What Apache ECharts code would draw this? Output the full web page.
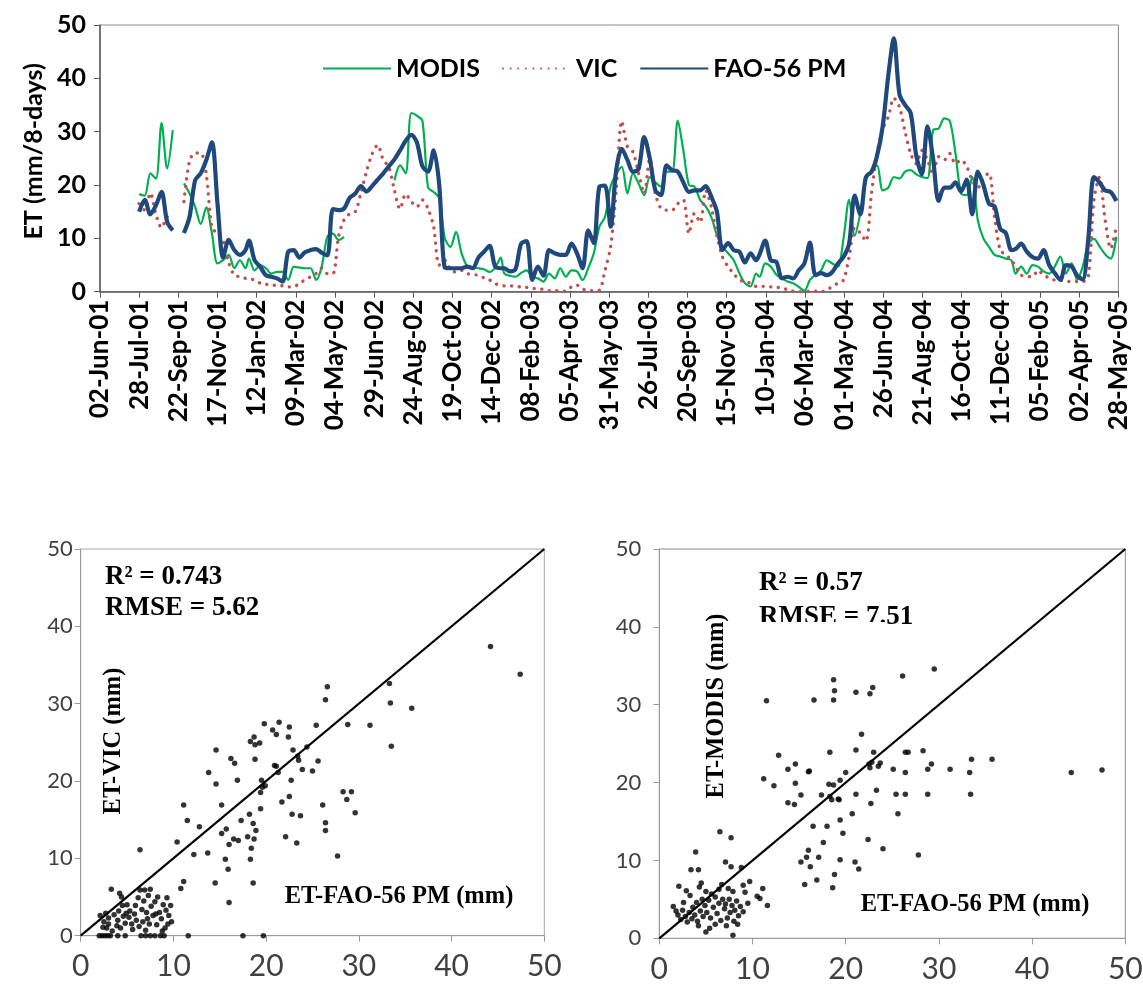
<!DOCTYPE html>
<html>
<head>
<meta charset="utf-8">
<script src="https://cdn.jsdelivr.net/npm/echarts@6/dist/echarts.min.js"></script>
<style>
html, body { margin: 0; padding: 0; background: #fff; }
#chart { width: 1143px; height: 989px; }
</style>
</head>
<body>
<div id="chart"></div>
<script>
// 8-day composite periods per year: [year, first day-of-year, last day-of-year]
const COMPOSITE_YEARS = [[2001, 209, 361], [2002, 1, 361], [2003, 1, 361], [2004, 1, 361], [2005, 1, 145]];

// Date-axis tick labels (every 56 days from 02-Jun-01)
const TICK_LABELS = ['02-Jun-01', '28-Jul-01', '22-Sep-01', '17-Nov-01', '12-Jan-02', '09-Mar-02', '04-May-02',
  '29-Jun-02', '24-Aug-02', '19-Oct-02', '14-Dec-02', '08-Feb-03', '05-Apr-03', '31-May-03', '26-Jul-03',
  '20-Sep-03', '15-Nov-03', '10-Jan-04', '06-Mar-04', '01-May-04', '26-Jun-04', '21-Aug-04', '16-Oct-04',
  '11-Dec-04', '05-Feb-05', '02-Apr-05', '28-May-05'];

// ET (mm/8-days), MODIS
const MODIS_2001 = [18.3, 18.0, 22.2, 21.2, 31.6, 23.1, 30.3, null, 20.3, 18.4, 15.9, 12.7, 15.8, 10.9, 5.3, 5.9, 6.9, 4.4, 5.9, 4.4];
const MODIS_2002 = [6.2, 4.0, 5.0, 4.4, 3.4, 3.7, 3.7, 2.2, 4.7, 4.5, 4.4, 4.4, 2.2, 4.7, 10.3, 10.9, 9.7, 10.3, null, null,
  null, null, null, null, null, null, 20.9, 23.7, 22.2, 33.5, 33.0, 32.0, 19.5, 18.7, 17.5, 10.0, 8.4, 11.2, 7.2, 4.8,
  4.5, 4.4, 4.2, 3.7, 4.5, 6.4];
const MODIS_2003 = [3.4, 3.0, 2.8, 3.5, 4.0, 2.8, 2.5, 1.9, 3.4, 2.5, 4.4, 2.8, 4.0, 3.8, 2.2, 4.4, 7.2, 12.2, 14.0, 19.7,
  22.0, 23.4, 18.4, 22.2, 20.3, 18.1, 21.5, 20.5, 19.7, 22.5, 22.5, 32.1, 26.5, 20.0, 19.7, 17.2, 16.0, 14.0, 10.6, 8.4,
  7.2, 5.9, 3.5, 1.6, 1.0, 3.4];
const MODIS_2004 = [2.8, 5.3, 4.7, 3.2, 2.5, 1.9, 1.6, 0.9, 0.2, 2.2, 3.2, 4.0, 5.9, 5.3, 4.7, 10.0, 17.2, 10.5, 14.7, 21.0,
  22.5, 23.7, 19.0, 19.5, 21.5, 21.2, 22.5, 22.8, 22.0, 21.5, 21.3, 30.3, 30.6, 32.5, 32.0, 26.0, 18.4, 18.1, 21.5, 13.4,
  10.0, 8.4, 6.9, 6.6, 6.2, 5.9];
const MODIS_2005 = [3.4, 4.7, 3.4, 5.0, 4.7, 3.8, 3.4, 4.7, 6.6, 3.4, 5.3, 2.2, 4.7, 9.0, 9.9, 8.5, 7.0, 6.2, 10.3];

// ET (mm/8-days), VIC
const VIC_2001 = [16.5, 15.3, 18.5, 14.5, 12.0, 14.0, 14.5, null, 16.9, 24.5, 26.0, 26.0, 22.0, 12.0, 10.9, 9.5, 5.5, 3.1, 2.8, 2.5];
const VIC_2002 = [2.4, 2.2, 1.6, 1.4, 1.2, 1.2, 1.1, 0.9, 0.9, 1.6, 2.2, 2.8, 3.4, 4.4, 3.4, 3.4, 10.3, 13.5, 14.6, 15.0,
  18.5, 22.5, 25.8, 27.5, 24.7, 23.4, 19.0, 15.5, 18.3, 16.9, 15.9, 17.2, 15.5, 12.2, 5.0, 5.9, 4.1, 3.7, 4.0, 3.4,
  3.2, 3.1, 2.6, 2.2, 1.5, 1.2];
const VIC_2003 = [1.1, 1.1, 1.0, 0.9, 0.8, 0.6, 0.6, 0.4, 0.2, 0.2, 0.1, 0.1, 0.9, 1.2, 0.5, 0.2, 0.2, 0.3, 4.0, 8.4,
  19.0, 32.0, 27.2, 26.2, 22.2, 18.4, 25.0, 18.4, 15.6, 15.3, 15.3, 16.5, 17.2, 10.9, 14.7, 13.0, 19.0, 15.9, 10.5, 6.5,
  4.7, 3.4, 2.2, 1.9, 1.6, 1.0];
const VIC_2004 = [1.0, 1.0, 0.9, 0.8, 0.8, 0.3, 0.1, 0.0, 0.0, 0.1, 0.1, 0.0, 0.3, 1.0, 1.6, 2.2, 6.5, 12.0, 11.0, 9.5,
  18.4, 25.9, 30.5, 32.8, 36.3, 34.6, 30.0, 25.9, 24.0, 26.5, 24.7, 22.0, 25.3, 24.7, 25.9, 24.0, 24.7, 23.5, 20.9, 19.5,
  21.5, 22.2, 14.0, 7.8, 6.9, 5.9];
const VIC_2005 = [4.7, 3.1, 2.9, 2.8, 4.0, 3.1, 2.6, 2.2, 2.2, 1.9, 1.9, 1.9, 1.9, 2.8, 17.2, 21.5, 13.5, 8.1, 12.2];

// ET (mm/8-days), FAO-56 Penman-Monteith
const FAO_2001 = [15.0, 17.2, 14.5, 16.2, 18.7, 13.1, 11.5, null, 11.0, 14.0, 20.9, 22.2, 24.7, 28.0, 16.5, 6.4, 9.7, 7.8, 6.9, 7.8];
const FAO_2002 = [9.6, 5.9, 4.7, 3.1, 2.8, 2.5, 1.9, 7.5, 7.8, 6.4, 7.4, 7.8, 8.0, 7.3, 6.8, 15.5, 15.3, 15.6, 17.6, 18.4,
  19.8, 18.8, 19.8, 21.0, 22.2, 23.5, 24.8, 26.5, 28.3, 29.4, 28.0, 23.5, 22.5, 26.5, 20.0, 4.5, 4.4, 4.4, 4.4, 4.7,
  4.4, 6.4, 7.5, 8.6, 4.7, 4.4];
const FAO_2003 = [4.4, 3.8, 4.2, 9.0, 9.5, 2.2, 4.7, 3.0, 7.8, 7.2, 6.9, 6.9, 9.0, 7.2, 4.4, 11.5, 9.1, 19.7, 19.9, 12.2,
  22.8, 26.8, 24.7, 22.5, 23.0, 29.0, 25.0, 19.0, 18.1, 23.7, 22.8, 22.5, 20.5, 18.7, 19.0, 19.0, 19.8, 17.8, 15.0, 7.8,
  9.1, 7.8, 7.5, 5.5, 7.2, 5.9];
const FAO_2004 = [7.0, 9.6, 5.9, 5.6, 2.5, 2.8, 2.5, 4.0, 5.3, 9.2, 3.1, 3.5, 3.1, 3.7, 5.3, 6.5, 9.0, 18.0, 14.5, 21.5,
  22.5, 25.5, 31.0, 40.5, 47.5, 37.0, 35.0, 33.5, 25.5, 22.0, 31.0, 25.0, 17.0, 19.5, 19.5, 20.5, 18.8, 21.0, 14.5, 22.5,
  20.0, 16.5, 16.0, 11.8, 11.0, 7.8];
const FAO_2005 = [8.0, 9.0, 7.5, 6.5, 6.2, 7.8, 5.0, 3.5, 2.2, 5.0, 4.8, 3.0, 2.3, 10.0, 21.5, 20.5, 19.0, 18.7, 17.0];

// Scatter pairs [ET-FAO-56 PM, ET-VIC] (mm)
const VIC_VS_FAO = [
  [44.2, 37.4], [47.4, 33.8], [33.3, 32.6], [26.6, 32.2], [26.4, 30.5], [33.4, 30.1], [35.7, 29.4], [28.8, 27.3],
  [31.2, 27.2], [25.4, 27.2], [33.5, 24.5], [19.8, 27.4], [21.4, 27.6], [22.5, 27.0], [20.7, 26.6], [21.1, 26.0],
  [22.4, 25.7], [18.7, 25.7], [18.3, 25.1], [18.8, 24.7], [19.3, 24.9], [14.6, 24.0], [22.9, 24.0], [24.4, 24.4],
  [16.2, 22.9], [16.6, 22.3], [18.8, 22.8], [23.4, 23.2], [23.5, 22.7], [25.6, 22.6], [20.9, 22.0], [21.1, 21.9],
  [23.9, 21.5], [25.0, 21.3], [21.3, 21.1], [13.8, 21.1], [16.9, 20.1], [19.5, 20.1], [22.7, 20.1], [14.6, 19.6],
  [19.6, 19.2], [19.9, 19.4], [19.4, 18.5], [28.3, 18.6], [29.2, 18.6], [28.7, 17.6], [22.5, 18.0], [21.7, 17.3],
  [26.1, 16.9], [11.1, 16.9], [15.2, 16.9], [19.4, 16.4], [29.6, 15.9], [18.2, 15.7], [22.8, 15.7], [23.7, 15.5],
  [11.5, 14.9], [17.3, 14.9], [18.6, 14.5], [18.9, 13.6], [12.8, 14.1], [15.7, 13.8], [26.4, 14.6], [26.4, 13.6],
  [15.2, 13.2], [16.5, 12.5], [17.0, 12.3], [18.0, 12.8], [18.7, 12.5], [22.1, 12.8], [23.3, 12.0], [16.0, 11.8],
  [10.4, 12.1], [18.4, 11.3], [6.4, 11.1], [12.2, 10.5], [13.7, 10.7], [15.6, 9.9], [18.3, 9.9], [27.7, 10.3],
  [15.9, 8.6], [11.1, 7.0], [10.8, 6.1], [14.5, 6.8], [18.6, 6.8], [16.0, 4.3], [11.6, 0], [17.5, 0], [19.7, 0],
  [2.0, 0], [2.3, 0], [2.6, 0], [2.9, 0], [3.2, 0], [4.0, 0], [4.8, 0], [6.5, 0], [7.0, 0], [7.5, 0], [8.0, 0],
  [8.6, 0], [9.0, 0], [2.1, 2.6], [2.5, 1.8], [2.8, 1.0], [3.0, 1.5], [3.3, 6.0], [3.6, 2.7], [3.9, 1.3], [4.0, 2.0],
  [4.2, 5.5], [4.4, 5.0], [4.5, 3.9], [4.6, 2.5], [4.8, 1.6], [5.0, 4.0], [5.2, 2.4], [5.5, 1.5], [5.8, 2.8],
  [6.0, 2.0], [6.3, 1.2], [6.4, 5.9], [6.8, 4.5], [6.9, 5.9], [7.1, 3.0], [7.2, 2.2], [7.4, 1.5], [7.5, 6.0],
  [7.6, 3.8], [7.8, 2.6], [8.0, 4.4], [8.2, 1.4], [8.3, 5.0], [8.5, 3.0], [8.7, 2.2], [8.9, 4.0], [9.1, 1.0],
  [9.2, 3.3], [9.5, 2.6], [9.7, 3.9], [9.8, 1.8], [3.4, 0.6], [5.6, 0.8], [6.6, 3.4], [7.0, 0.7], [8.8, 0.6],
  [2.4, 1.1], [5.3, 3.2], [6.2, 4.9], [4.1, 3.2], [9.3, 4.9], [3.0, 2.3], [4.3, 1.0], [5.9, 3.9], [7.3, 5.2],
  [8.1, 2.8], [6.7, 1.8], [2.7, 2.9], [4.9, 2.9], [9.4, 1.5]
];

// Scatter pairs [ET-FAO-56 PM, ET-MODIS] (mm)
const MODIS_VS_FAO = [
  [29.5, 34.6], [26.1, 33.7], [18.7, 33.2], [18.8, 31.8], [18.7, 30.6], [21.1, 31.6], [22.6, 31.4], [22.9, 32.2],
  [16.6, 30.6], [11.5, 30.5], [21.7, 26.2], [12.8, 23.5], [18.3, 23.9], [21.1, 24.2], [23.0, 23.9], [26.4, 23.9],
  [26.7, 23.9], [28.3, 24.1], [33.5, 23.0], [35.7, 23.0], [13.8, 21.7], [14.6, 22.4], [16.1, 21.5], [11.2, 20.5],
  [12.3, 19.6], [14.6, 19.9], [15.2, 18.4], [17.4, 18.4], [18.2, 19.8], [18.7, 19.7], [19.4, 20.3], [20.0, 21.3],
  [21.1, 18.5], [22.6, 21.9], [22.5, 22.4], [22.8, 22.6], [23.5, 22.1], [23.7, 22.5], [23.3, 19.0], [25.1, 21.7],
  [25.4, 18.5], [26.4, 21.3], [26.4, 18.5], [28.8, 21.7], [29.2, 22.4], [28.8, 18.5], [31.2, 21.7], [33.3, 21.3],
  [33.4, 18.5], [18.3, 18.2], [19.2, 17.9], [44.2, 21.3], [47.5, 21.6], [25.6, 16.0], [22.7, 17.3], [20.7, 16.0],
  [19.7, 13.5], [19.4, 15.2], [19.3, 17.8], [18.5, 17.8], [18.0, 14.4], [16.5, 14.4], [17.6, 12.3], [16.0, 11.3],
  [15.8, 10.4], [17.1, 10.4], [15.2, 9.8], [16.2, 9.2], [15.6, 6.9], [16.9, 7.5], [18.8, 8.2], [18.6, 6.5],
  [19.4, 10.1], [21.0, 9.8], [21.4, 8.9], [22.4, 12.7], [24.0, 11.5], [27.8, 10.7], [13.8, 17.4], [14.5, 17.2],
  [16.0, 21.4], [6.5, 13.7], [7.7, 12.9], [3.9, 11.1], [7.1, 9.8], [7.7, 9.2], [8.8, 9.1], [3.4, 8.8], [4.2, 8.8],
  [2.1, 6.7], [2.9, 6.1], [4.5, 7.1], [4.3, 6.6], [9.7, 7.3], [9.2, 5.9], [11.1, 6.4], [10.5, 5.4], [10.8, 5.1],
  [11.6, 4.2], [6.4, 6.3], [7.4, 6.4], [5.0, 0.8], [5.4, 1.3], [7.9, 0.4], [1.5, 4.1], [1.8, 3.5], [2.0, 3.0],
  [2.3, 2.4], [2.5, 3.6], [2.8, 2.8], [3.0, 2.1], [3.2, 3.3], [3.5, 2.5], [3.6, 4.0], [3.8, 3.0], [4.0, 4.6],
  [4.1, 2.2], [4.4, 3.5], [4.6, 5.0], [4.7, 2.8], [4.9, 4.2], [5.1, 3.3], [5.3, 4.9], [5.5, 2.6], [5.8, 4.0],
  [6.0, 5.3], [6.2, 3.2], [6.4, 4.5], [6.6, 2.3], [6.8, 5.0], [7.0, 3.8], [7.1, 4.4], [7.3, 2.6], [7.5, 5.0],
  [7.6, 3.3], [7.8, 4.2], [8.0, 2.2], [8.1, 3.6], [8.3, 4.8], [8.5, 2.9], [8.7, 4.1], [9.0, 3.4], [7.2, 1.6],
  [6.0, 1.8], [8.4, 1.8], [9.5, 4.5], [3.3, 5.5], [2.6, 4.6], [5.0, 6.0], [7.9, 6.0], [9.0, 6.8], [6.7, 6.9],
  [4.2, 1.6], [5.6, 5.7]
];

// 1:1 reference line
const ONE_TO_ONE = [[0, 0], [50, 50]];

// Composite start dates, as days after 02-Jun-01
const ORIGIN = Date.UTC(2001, 5, 2);
const DAY = 86400000;
const compositeDays = [];
COMPOSITE_YEARS.forEach(function (p) {
  for (let d = p[1]; d <= p[2]; d += 8) {
    compositeDays.push((Date.UTC(p[0], 0, d) - ORIGIN) / DAY);
  }
});
function pair(values) {
  return values.map(function (v, i) { return [compositeDays[i], v]; });
}
const modis = pair([].concat(MODIS_2001, MODIS_2002, MODIS_2003, MODIS_2004, MODIS_2005));
const vic = pair([].concat(VIC_2001, VIC_2002, VIC_2003, VIC_2004, VIC_2005));
const fao = pair([].concat(FAO_2001, FAO_2002, FAO_2003, FAO_2004, FAO_2005));

const SANS = 'Lato';
const SERIF = '"Liberation Serif", "Times New Roman", serif';

function scatterAxis(grid, labelSize, labelMargin) {
  return {
    gridIndex: grid, type: 'value', min: 0, max: 50, interval: 10,
    axisLine: { show: true, lineStyle: { color: '#9a9a9a', width: 1 } },
    axisTick: { show: true, length: 6, lineStyle: { color: '#9a9a9a' } },
    splitLine: { show: false },
    axisLabel: { fontFamily: SANS, fontSize: labelSize, color: '#404040', margin: labelMargin }
  };
}

const chart = echarts.init(document.getElementById('chart'), null, { renderer: 'canvas' });
chart.setOption({
  animation: false,
  backgroundColor: '#fff',
  legend: {
    left: 322, top: 56, padding: 0, itemWidth: 68, itemHeight: 2, itemGap: 22,
    itemStyle: { opacity: 0 },
    textStyle: { fontFamily: SANS, fontWeight: 'bold', fontSize: 25, color: '#000' },
    data: ['MODIS', 'VIC', 'FAO-56 PM']
  },
  grid: [
    { left: 100, top: 25, width: 1018.4, height: 266.7, show: true, borderColor: '#8c8c8c', borderWidth: 1, outerBoundsMode: 'none' },
    { left: 80.7, top: 549, width: 463.6, height: 386.7, show: true, borderColor: '#a6a6a6', borderWidth: 1, outerBoundsMode: 'none' },
    { left: 659.3, top: 549, width: 466, height: 389.3, show: true, borderColor: '#8c8c8c', borderWidth: 1, outerBoundsMode: 'none' }
  ],
  xAxis: [
    {
      gridIndex: 0, type: 'value', min: 0, max: 1456, interval: 56,
      axisLine: { show: true, lineStyle: { color: '#595959', width: 1.5 } },
      axisTick: { show: true, length: 6, lineStyle: { color: '#595959' } },
      splitLine: { show: false },
      axisLabel: {
        rotate: 90, margin: 8, fontFamily: SANS, fontWeight: 'bold', fontSize: 26, color: '#000',
        formatter: function (v) { return TICK_LABELS[Math.round(v / 56)]; }
      }
    },
    scatterAxis(1, 30, 16),
    scatterAxis(2, 30, 16)
  ],
  yAxis: [
    {
      gridIndex: 0, type: 'value', min: 0, max: 50, interval: 10,
      name: 'ET (mm/8-days)', nameLocation: 'middle', nameGap: 52,
      nameTextStyle: { fontFamily: SANS, fontWeight: 'bold', fontSize: 25, color: '#000', padding: [0, 0, 0, 14] },
      axisLine: { show: true, lineStyle: { color: '#595959', width: 1.5 } },
      axisTick: { show: true, length: 6, lineStyle: { color: '#595959' } },
      splitLine: { show: false },
      axisLabel: { margin: 14, fontFamily: SANS, fontWeight: 'bold', fontSize: 25, color: '#000' }
    },
    scatterAxis(1, 22, 8),
    scatterAxis(2, 22, 18)
  ],
  series: [
    {
      name: 'MODIS', type: 'line', xAxisIndex: 0, yAxisIndex: 0, data: modis,
      smooth: 0.3, symbol: 'none', connectNulls: false,
      lineStyle: { color: '#00B050', width: 2.2 }, itemStyle: { color: '#00B050' }
    },
    {
      name: 'VIC', type: 'line', xAxisIndex: 0, yAxisIndex: 0, data: vic,
      smooth: 0.3, symbol: 'none', connectNulls: false,
      lineStyle: { color: '#C0504D', width: 3.4, type: [0.1, 7.5], cap: 'round' }, itemStyle: { color: '#C0504D' }
    },
    {
      name: 'FAO-56 PM', type: 'line', xAxisIndex: 0, yAxisIndex: 0, data: fao,
      smooth: 0.3, symbol: 'none', connectNulls: false,
      lineStyle: { color: '#1F497D', width: 4.2 }, itemStyle: { color: '#1F497D' }
    },
    {
      type: 'line', xAxisIndex: 1, yAxisIndex: 1, data: ONE_TO_ONE, symbol: 'none', silent: true,
      lineStyle: { color: '#000', width: 2.2 }
    },
    {
      type: 'scatter', xAxisIndex: 1, yAxisIndex: 1, data: VIC_VS_FAO, symbolSize: 5.5,
      itemStyle: { color: '#000' }
    },
    {
      type: 'line', xAxisIndex: 2, yAxisIndex: 2, data: ONE_TO_ONE, symbol: 'none', silent: true,
      lineStyle: { color: '#000', width: 2.2 }
    },
    {
      type: 'scatter', xAxisIndex: 2, yAxisIndex: 2, data: MODIS_VS_FAO, symbolSize: 5.5,
      itemStyle: { color: '#000' }
    }
  ],
  graphic: [
    { type: 'text', x: 105, y: 577, style: { text: 'R² = 0.743', font: 'bold 27px ' + SERIF, fill: '#000', textAlign: 'left', textVerticalAlign: 'middle' } },
    { type: 'text', x: 105, y: 608, style: { text: 'RMSE = 5.62', font: 'bold 27px ' + SERIF, fill: '#000', textAlign: 'left', textVerticalAlign: 'middle' } },
    { type: 'text', x: 114, y: 741, rotation: Math.PI / 2, style: { text: 'ET-VIC (mm)', font: 'bold 24.5px ' + SERIF, fill: '#000', textAlign: 'center', textVerticalAlign: 'middle' } },
    { type: 'text', x: 399, y: 897, style: { text: 'ET-FAO-56 PM (mm)', font: 'bold 24.5px ' + SERIF, fill: '#000', textAlign: 'center', textVerticalAlign: 'middle' } },
    { type: 'text', x: 759, y: 583, style: { text: 'R² = 0.57', font: 'bold 27px ' + SERIF, fill: '#000', textAlign: 'left', textVerticalAlign: 'middle' } },
    { type: 'text', x: 759, y: 617, style: { text: 'RMSE = 7.51', font: 'bold 27px ' + SERIF, fill: '#000', textAlign: 'left', textVerticalAlign: 'middle' } },
    { type: 'rect', shape: { x: 755, y: 622, width: 130, height: 10 }, style: { fill: '#fff' }, z: 100 },
    { type: 'text', x: 717, y: 706, rotation: Math.PI / 2, style: { text: 'ET-MODIS (mm)', font: 'bold 24.5px ' + SERIF, fill: '#000', textAlign: 'center', textVerticalAlign: 'middle' } },
    { type: 'text', x: 975, y: 905, style: { text: 'ET-FAO-56 PM (mm)', font: 'bold 24.5px ' + SERIF, fill: '#000', textAlign: 'center', textVerticalAlign: 'middle' } }
  ]
});
</script>
</body>
</html>
